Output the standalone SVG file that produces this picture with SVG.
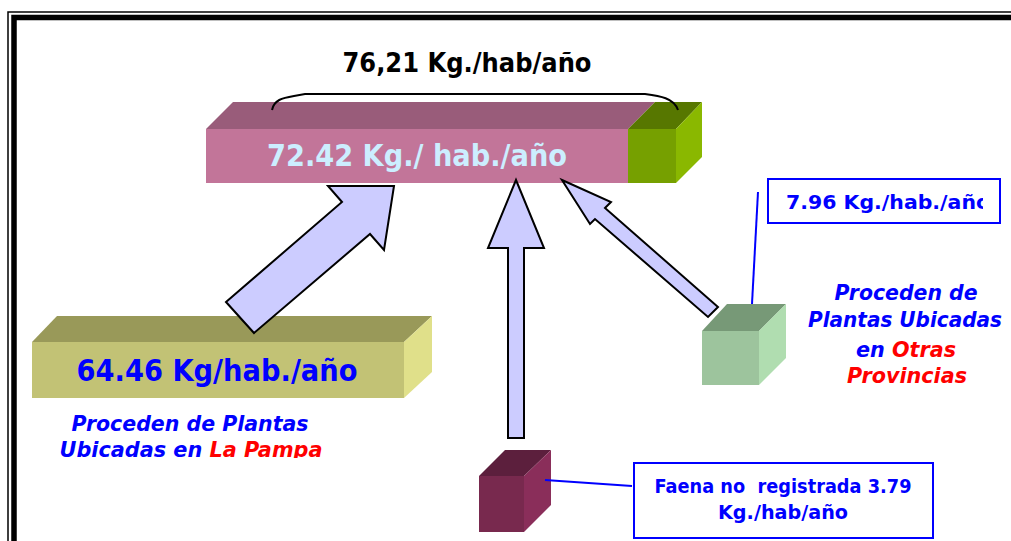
<svg xmlns="http://www.w3.org/2000/svg" width="1011" height="541" viewBox="0 0 1011 541">
<style>
text{font-family:"DejaVu Sans","Verdana",sans-serif;font-weight:bold}
.arrow{fill:#CCCCFF;stroke:#000;stroke-width:2;stroke-linejoin:miter}
.blue{fill:#0000FF}
.red{fill:#FF0000}
.it{font-style:italic}
.lbl{fill:#fff;stroke:#0000FF;stroke-width:2}
.lead{stroke:#0000FF;stroke-width:2;fill:none}
</style>
<defs>
<clipPath id="clipL"><rect x="0" y="0" width="1011" height="458"/></clipPath>
<clipPath id="clipB"><rect x="769" y="180" width="214" height="42"/></clipPath>
</defs>
<rect width="1011" height="541" fill="#fff"/>
<g id="frame">
<path d="M8,541 V12 H1011" fill="none" stroke="#000" stroke-width="1.5"/>
<path d="M14,541 V17.5 H1011" fill="none" stroke="#000" stroke-width="5.5"/>
</g>
<g id="main-bar">
<polygon points="206,129 233,102 655,102 628,129" fill="#995C7A"/>
<rect x="206" y="129" width="422" height="54" fill="#C27599"/>
<polygon points="628,129 655,102 702,102 676,129" fill="#577700"/>
<rect x="628" y="129" width="48" height="54" fill="#76A000"/>
<polygon points="676,129 702,102 702,157 676,183" fill="#8AB800"/>
<text x="417" y="166" font-size="31" text-anchor="middle" fill="#CCEEFF" textLength="300" lengthAdjust="spacingAndGlyphs">72.42 Kg./ hab./año</text>
</g>
<g id="total">
<path d="M272,110 C274,100 282,98 294,96 L305,94 L645,94 C660,96 674,98 678,110" fill="none" stroke="#000" stroke-width="2"/>
<text x="467" y="72" font-size="26" text-anchor="middle" textLength="249" lengthAdjust="spacingAndGlyphs">76,21 Kg./hab/año</text>
</g>
<g id="pampa">
<polygon points="32,342 57,316 432,316 404,342" fill="#999959"/>
<rect x="32" y="342" width="372" height="56" fill="#C2C275"/>
<polygon points="404,342 432,316 432,372 404,398" fill="#E0E08A"/>
<text x="217" y="381" font-size="31" text-anchor="middle" class="blue" textLength="281" lengthAdjust="spacingAndGlyphs">64.46 Kg/hab./año</text>
<g clip-path="url(#clipL)">
<text x="190" y="431" font-size="21" text-anchor="middle" class="blue it" textLength="237" lengthAdjust="spacingAndGlyphs">Proceden de Plantas</text>
<text x="191" y="457" font-size="21" text-anchor="middle" class="blue it" textLength="263" lengthAdjust="spacingAndGlyphs">Ubicadas en <tspan class="red">La Pampa</tspan></text>
</g>
</g>
<g id="otras">
<polygon points="702,331 727,304 786,304 759,331" fill="#779977"/>
<rect x="702" y="331" width="57" height="54" fill="#9DC49D"/>
<polygon points="759,331 786,304 786,358 759,385" fill="#B0DDB0"/>
<text x="906" y="300" font-size="21" text-anchor="middle" class="blue it" textLength="143" lengthAdjust="spacingAndGlyphs">Proceden de</text>
<text x="905" y="327" font-size="21" text-anchor="middle" class="blue it" textLength="194" lengthAdjust="spacingAndGlyphs">Plantas Ubicadas</text>
<text x="906" y="357" font-size="21" text-anchor="middle" class="it" textLength="100" lengthAdjust="spacingAndGlyphs"><tspan class="blue">en </tspan><tspan class="red">Otras</tspan></text>
<text x="907" y="383" font-size="21" text-anchor="middle" class="red it" textLength="120" lengthAdjust="spacingAndGlyphs">Provincias</text>
</g>
<g id="label-otras">
<rect x="768" y="179" width="232" height="44" class="lbl"/>
<g clip-path="url(#clipB)">
<text x="786" y="209" font-size="19" class="blue" textLength="204" lengthAdjust="spacingAndGlyphs">7.96 Kg./hab./año</text>
</g>
</g>
<g id="faena">
<polygon points="479,476 505,450 551,450 524,476" fill="#5C1F3D"/>
<rect x="479" y="476" width="45" height="56" fill="#78294E"/>
<polygon points="524,476 551,450 551,505 524,532" fill="#8A2E5A"/>
</g>
<g id="label-faena">
<rect x="634" y="463" width="299" height="75" class="lbl"/>
<text x="783" y="493" font-size="19" text-anchor="middle" class="blue" textLength="257" lengthAdjust="spacingAndGlyphs" xml:space="preserve">Faena no  registrada 3.79</text>
<text x="783" y="519" font-size="19" text-anchor="middle" class="blue" textLength="130" lengthAdjust="spacingAndGlyphs">Kg./hab/año</text>
</g>
<g id="connectors">
<polygon class="arrow" points="226,302 342,202 328,186 394,186 384,250 370,234 254,333"/>
<polygon class="arrow" points="516,180 544,248 524,248 524,438 508,438 508,248 488,248"/>
<polygon class="arrow" points="562,180 611,202 605,208 718,307 708,317 595,219 590,224"/>
<line class="lead" x1="752" y1="304" x2="758" y2="192"/>
<line class="lead" x1="545" y1="480" x2="632" y2="486"/>
</g>
</svg>
